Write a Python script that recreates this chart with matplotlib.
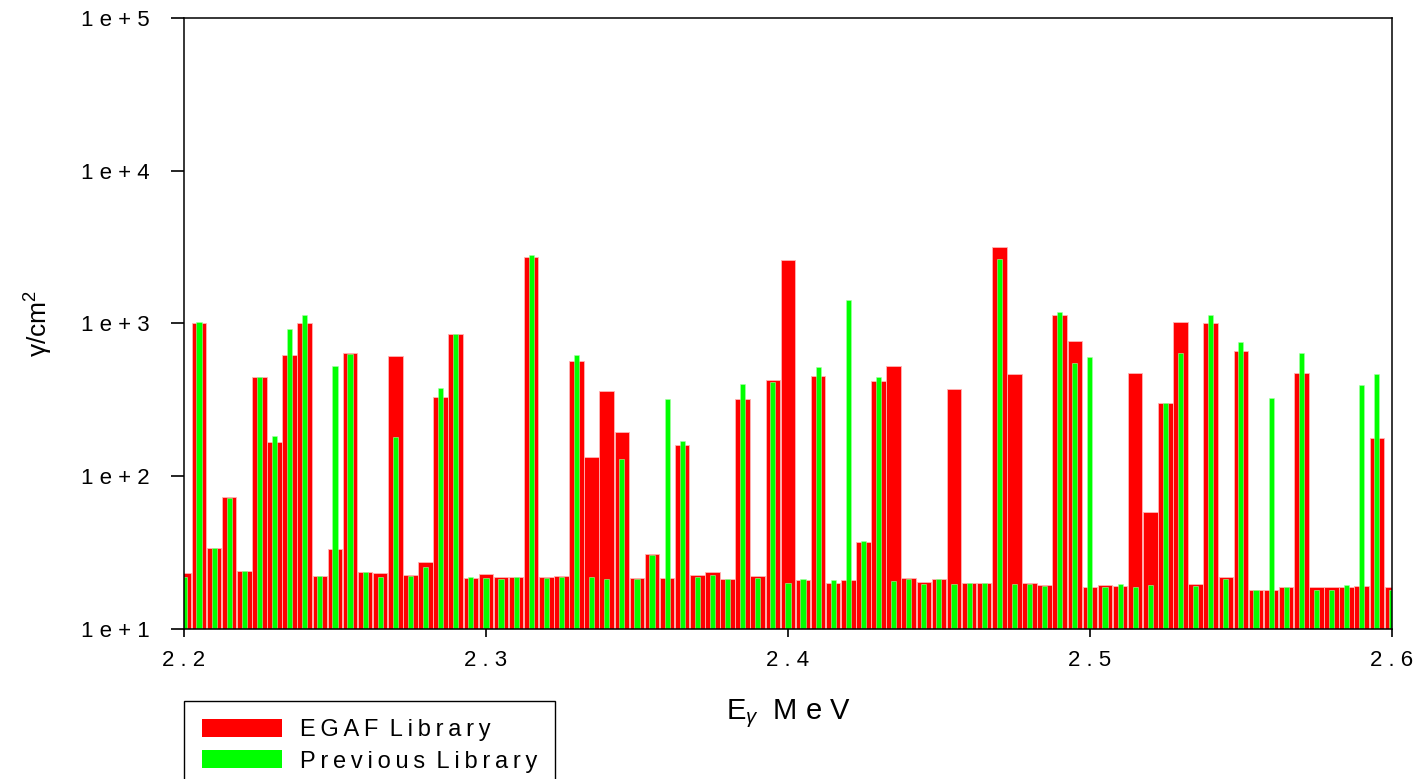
import numpy as np
import matplotlib.pyplot as plt

plt.rcParams['font.family'] = ['Liberation Sans', 'DejaVu Sans']
plt.rcParams['mathtext.fontset'] = 'custom'
plt.rcParams['mathtext.rm'] = 'Liberation Sans'
plt.rcParams['mathtext.it'] = 'Liberation Sans:italic'

# --- Gamma line intensities in 5 keV bins, 2.2 - 2.6 MeV
bin_width = 0.005
energy = np.round(np.arange(2.2, 2.6 + bin_width / 2, bin_width), 3)

egaf = [23.4, 1011, 33.7, 72.8, 24.1, 449, 167, 625, 1002, 22.3,
        33.6, 641, 23.5, 23.2, 615, 22.7, 27.5, 330, 857, 21.5,
        22.9, 22.0, 21.8, 2735, 22.0, 22.3, 568, 133, 360, 196,
        21.5, 30.8, 21.5, 160, 22.7, 23.5, 21.1, 322, 22.1, 429,
        2606, 20.8, 455, 20.1, 21.0, 37.2, 419, 527, 21.5, 20.2,
        21.1, 374, 20.0, 20.0, 3170, 467, 19.9, 19.3, 1133, 771,
        18.9, 19.5, 19.2, 472, 58.6, 303, 1019, 19.6, 1011, 22.0,
        664, 18.0, 18.0, 18.9, 472, 18.7, 18.9, 18.9, 19.2, 177,
        18.7]

previous = [22.0, 1025, 33.7, 72.0, 24.1, 449, 182, 921, 1133, 22.3,
            529, 636, 23.5, 21.8, 180, 22.3, 25.3, 380, 857, 21.9,
            21.5, 21.2, 22.0, 2805, 21.7, 22.0, 619, 21.8, 21.1, 129,
            21.2, 30.4, 319, 170, 21.8, 22.6, 21.1, 404, 21.7, 416,
            19.9, 21.2, 519, 20.9, 1432, 37.4, 447, 20.6, 21.1, 19.8,
            21.2, 19.6, 20.0, 20.0, 2632, 19.8, 19.8, 19.0, 1189, 553,
            606, 18.8, 19.6, 18.9, 19.3, 303, 641, 19.2, 1137, 21.1,
            760, 18.1, 327, 18.8, 638, 18.1, 18.1, 19.3, 395, 465,
            18.0]

xticks = [2.2, 2.3, 2.4, 2.5, 2.6]
xtick_labels = ['2 . 2', '2 . 3', '2 . 4', '2 . 5', '2 . 6']
yticks = [1e1, 1e2, 1e3, 1e4, 1e5]
ytick_labels = ['1 e + 1', '1 e + 2', '1 e + 3', '1 e + 4', '1 e + 5']


def spaced(s):
    # letter-spaced text: thin space between letters
    return '\u2009 '.join('\u2009'.join(w) for w in s.split(' '))


base = 10.0
fig = plt.figure(figsize=(14.16, 7.79), dpi=100)
ax = fig.add_axes([0.1299, 0.1926, 0.8531, 0.7843])

ax.set_yscale('log')
ax.bar(energy, np.array(egaf) - base, bottom=base, width=0.0048,
       color='#ff0000', edgecolor='#ffb4b4', linewidth=0.6,
       label=spaced('EGAF Library'), zorder=2)
ax.bar(energy, np.array(previous) - base, bottom=base, width=0.0017,
       color='#00ff00', edgecolor='#a8ffa8', linewidth=0.4,
       label=spaced('Previous Library'), zorder=3)

ax.set_xlim(2.2, 2.6)
ax.set_ylim(1e1, 1e5)
ax.set_xticks(xticks)
ax.set_xticklabels(xtick_labels, fontsize=16)
ax.set_yticks(yticks)
ax.set_yticklabels(ytick_labels, fontsize=16)
ax.minorticks_off()
ax.tick_params(axis='y', direction='out', length=9.5, width=1.2, pad=15)
ax.tick_params(axis='x', direction='out', length=5.5, width=1.2, pad=10)
for s in ax.spines.values():
    s.set_linewidth(1.1)
    s.set_zorder(5)

ax.set_xlabel('E$_{γ}$  M e V', fontsize=21, labelpad=19)
ax.set_ylabel('γ/cm$^{2}$', fontsize=19, labelpad=19)

leg = ax.legend(loc='upper left', bbox_to_anchor=(0.1299, 0.1001),
                bbox_transform=fig.transFigure, fontsize=17,
                frameon=True, fancybox=False, framealpha=1,
                edgecolor='black', borderaxespad=0, borderpad=0.75,
                handlelength=3.4, handleheight=0.8, handletextpad=0.75,
                labelspacing=0.4)
leg.get_frame().set_linewidth(1.0)
for h in leg.legend_handles:
    h.set_linewidth(0)

fig.savefig('out.png', dpi=100)
